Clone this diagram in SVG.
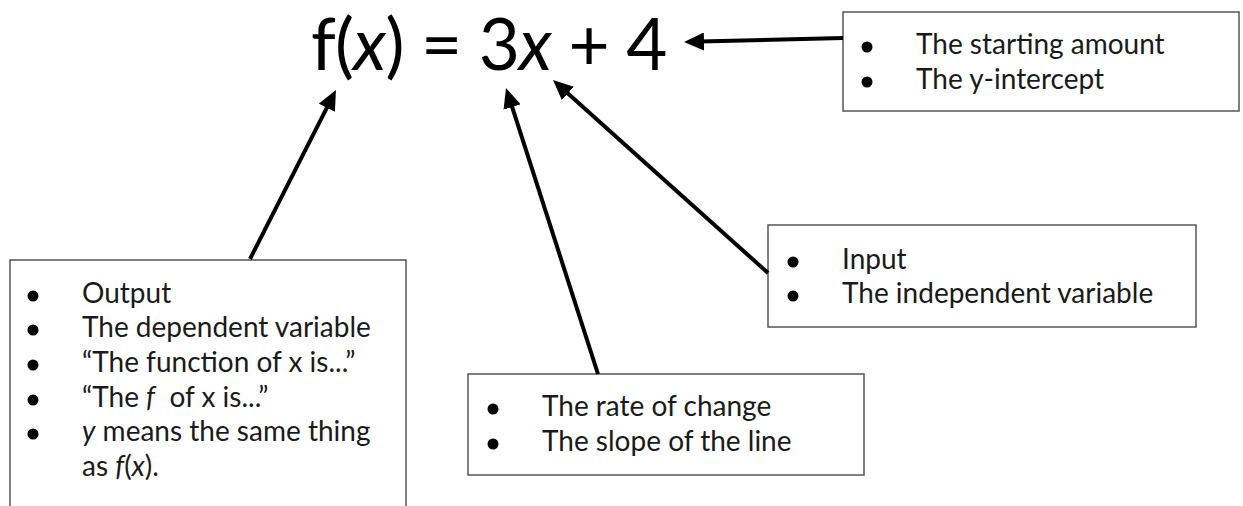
<svg xmlns="http://www.w3.org/2000/svg" width="1243" height="506" viewBox="0 0 1243 506">
<style>
.box{fill:#fff;stroke:#555;stroke-width:1.5}
.t{font-family:Lato,"Open Sans","Liberation Sans",sans-serif;font-size:28px;fill:#1a1a1a}
.title{font-family:Lato,"Open Sans","Liberation Sans",sans-serif;font-size:71px;letter-spacing:-0.8px;fill:#000}
.bul{fill:#000}
.arr{stroke:#000;stroke-width:4;fill:none;marker-end:url(#ah)}
.i{font-style:italic}
</style>
<defs>
<marker id="ah" viewBox="0 0 20 18" refX="4" refY="9" markerWidth="20" markerHeight="18" markerUnits="userSpaceOnUse" orient="auto">
<path d="M0,0 L20,9 L0,18 z" fill="#000"/>
</marker>
</defs>
<rect width="1243" height="506" fill="#fff"/>
<g id="equation">
<text class="title" x="311" y="70">f(<tspan class="i">x</tspan>) = 3<tspan class="i">x</tspan> + 4</text>
</g>
<g id="box-output">
<rect class="box" x="10" y="260" width="396" height="270"/>
<circle class="bul" cx="33" cy="296" r="5.5"/>
<circle class="bul" cx="33" cy="330" r="5.5"/>
<circle class="bul" cx="33" cy="365" r="5.5"/>
<circle class="bul" cx="33" cy="400" r="5.5"/>
<circle class="bul" cx="33" cy="434" r="5.5"/>
<text class="t" x="82" y="303">Output</text>
<text class="t" x="82" y="337">The dependent variable</text>
<text class="t" x="82" y="372">“The function of x is...”</text>
<text class="t" x="82" y="407">“The <tspan class="i">f</tspan>&#160; of x is...”</text>
<text class="t" x="82" y="441"><tspan class="i">y</tspan> means the same thing</text>
<text class="t" x="82" y="476">as <tspan class="i">f</tspan>(<tspan class="i">x</tspan>).</text>
</g>
<g id="box-rate">
<rect class="box" x="468" y="374" width="396" height="101"/>
<circle class="bul" cx="493" cy="409" r="5.5"/>
<circle class="bul" cx="493" cy="444" r="5.5"/>
<text class="t" x="542" y="416">The rate of change</text>
<text class="t" x="542" y="451">The slope of the line</text>
</g>
<g id="box-input">
<rect class="box" x="768" y="225" width="428" height="102"/>
<circle class="bul" cx="793" cy="262" r="5.5"/>
<circle class="bul" cx="793" cy="296" r="5.5"/>
<text class="t" x="842" y="269">Input</text>
<text class="t" x="842" y="303">The independent variable</text>
</g>
<g id="box-start">
<rect class="box" x="843" y="12" width="396" height="99"/>
<circle class="bul" cx="867" cy="47" r="5.5"/>
<circle class="bul" cx="867" cy="82" r="5.5"/>
<text class="t" x="916" y="54">The starting amount</text>
<text class="t" x="916" y="89">The y-intercept</text>
</g>
<g id="connectors">
<line class="arr" x1="250" y1="259" x2="328.7" y2="104.2"/>
<line class="arr" x1="598" y1="374" x2="510.9" y2="103.2"/>
<line class="arr" x1="768" y1="273" x2="564.9" y2="90.7"/>
<line class="arr" x1="843" y1="38" x2="700" y2="41.6"/>
</g>
</svg>
